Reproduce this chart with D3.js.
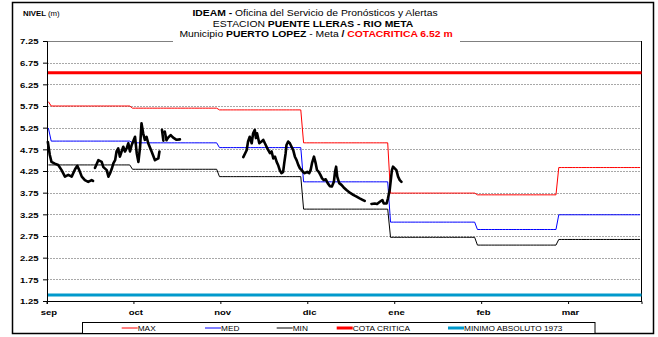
<!DOCTYPE html>
<html><head><meta charset="utf-8">
<script src="https://cdn.jsdelivr.net/npm/d3@7"></script>
<style>
body{margin:0;background:#fff;}
svg{display:block;font-family:"Liberation Sans",Arial,sans-serif;}
</style></head><body>
<svg id="chart" width="658" height="337"></svg>
<script>
// Río Meta, estación Puente Lleras (Puerto López): niveles de septiembre a marzo
const meses = ["sep", "oct", "nov", "dic", "ene", "feb", "mar"];
const inicioMes = ["2015-09-01", "2015-10-01", "2015-11-01", "2015-12-01", "2016-01-01", "2016-02-01", "2016-03-01"];
const nivelMax = [5.75, 5.70, 5.66, 4.90, 3.74, 3.70, 4.33];
const nivelMed = [4.94, 4.90, 4.79, 4.00, 3.07, 2.90, 3.24];
const nivelMin = [4.39, 4.29, 4.12, 3.37, 2.72, 2.54, 2.67];
const primerDia = [5.85, 5.24, 4.39];          // MAX, MED, MIN del 1 de septiembre
const cotaCritica = 6.52;
const minimoAbsoluto = 1.39;
const nivelTicks = [1.25, 1.75, 2.25, 2.75, 3.25, 3.75, 4.25, 4.75, 5.25, 5.75, 6.25, 6.75, 7.25];
const diaTicks = [0, 31, 62, 93, 124, 155, 186];

// Lecturas observadas: día desde el 1 de septiembre y nivel (null = sin dato)
const obsDia = [
  0.3, 1.0, 1.6, 2.8, 4.0, 5.2, 6.4, 7.6, 8.8, 10.0, 10.8, 11.5, 12.4, 13.5, 14.7, 15.9, 16.4, null,
  17.1, 18.3, 19.5, 20.1, 21.3, 21.9, 22.5, 23.1, 23.7, 24.3, 24.8, 25.4, 26.0, 26.6, 27.2, 27.8, 28.4,
  29.0, 29.6, 30.2, 31.4, 32.0, 32.6, 33.2, 33.7, 34.3, 34.9, 35.5, 36.1, 37.3, 38.5, 39.7, 40.1, null,
  41.0, 41.5, null,
  42.0, 42.6, 43.2, 44.1, 45.0, 46.2, 47.4, null,
  70.0, 71.2, 71.7, 72.3, 73.0, 73.5, 74.1, 74.5, 74.9, 75.7, 76.5, 77.1, 77.7, 78.3, 78.9, 79.5, 80.1,
  80.7, 81.3, 81.9, 82.4, 83.0, 83.6, 84.2, 84.6, 85.1, 85.4, 86.0, 86.6, 87.2, 87.8, 88.4, 89.0, 89.6,
  90.2, 90.8, 91.3, 91.9, 92.8, 93.5, 94.0, 94.5, 95.2, 95.8, 96.3, 96.9, 97.5, 98.1, 98.7, 99.4, 100.1,
  100.9, 101.6, 102.3, 102.7, 103.1, 103.5, 104.2, 105.0, 105.8, 106.8, 108.0, 109.2, 110.4, 111.5,
  112.7, 113.3, null,
  115.7, 116.9, 117.7, 118.7, 119.6, 120.1, 121.1, 121.6, 122.2, 122.6, 123.0, 123.4, 124.0, 124.6,
  125.2, 125.8, 126.4
];
const obsNivel = [
  4.92, 4.62, 4.46, 4.42, 4.39, 4.27, 4.12, 4.16, 4.12, 4.29, 4.37, 4.27, 4.12, 4.04, 4.00, 4.04, 4.02, null,
  4.32, 4.50, 4.46, 4.34, 4.27, 4.12, 4.20, 4.30, 4.43, 4.50, 4.70, 4.77, 4.58, 4.70, 4.81, 4.70, 4.77,
  4.89, 4.70, 4.85, 5.04, 4.66, 4.46, 4.81, 5.35, 5.12, 4.97, 5.04, 4.89, 4.70, 4.50, 4.54, 4.70, null,
  5.20, 4.95, null,
  5.16, 4.96, 5.02, 5.08, 5.02, 4.97, 4.98, null,
  4.57, 4.73, 4.93, 5.04, 4.89, 5.12, 5.20, 5.01, 5.12, 4.89, 4.93, 4.97, 4.89, 4.81, 4.73, 4.66, 4.70,
  4.54, 4.58, 4.46, 4.39, 4.27, 4.20, 4.23, 4.43, 4.66, 4.85, 4.93, 4.89, 4.81, 4.73, 4.58, 4.50, 4.39,
  4.31, 4.27, 4.23, 4.20, 4.23, 4.20, 4.27, 4.43, 4.58, 4.43, 4.27, 4.23, 4.16, 4.08, 4.04, 4.06, 3.97,
  3.90, 3.89, 4.00, 4.23, 4.35, 4.12, 3.97, 3.93, 3.87, 3.81, 3.75, 3.70, 3.66, 3.62,
  3.58, 3.56, null,
  3.49, 3.50, 3.49, 3.54, 3.58, 3.50, 3.50, 3.62, 3.81, 4.04, 4.27, 4.35, 4.31, 4.27,
  4.12, 4.04, 4.00
];

const SX = 1.22;   // ensanche horizontal del texto
const svg = d3.select("#chart");
const M = {left: 47, right: 641.5, top: 41, bottom: 301};

const parse = d3.timeParse("%Y-%m-%d");
const t0 = parse(inicioMes[0]);
const diaInicio = inicioMes.map(s => d3.timeDay.count(t0, parse(s)));
const totalDias = 212;

const x = d3.scaleLinear().domain([0, totalDias]).range([M.left, M.right]);
const y = d3.scaleLinear().domain([1.25, 7.25]).range([M.bottom, M.top]);

// Serie diaria escalonada a partir de los valores mensuales
function serieMensual(valores, inicial) {
  const pts = [];
  for (let d = 0; d < totalDias; d++) {
    let m = 0;
    while (m + 1 < diaInicio.length && diaInicio[m + 1] <= d) m++;
    pts.push([d + 0.5, d === 0 ? inicial : valores[m]]);
  }
  return pts;
}

// Marco exterior
svg.append("rect").attr("x", 12.5).attr("y", 2.5).attr("width", 641).attr("height", 331)
  .attr("fill", "#fff").attr("stroke", "#000").attr("stroke-width", 1.5);

// Cuadrícula
svg.append("g").selectAll("line").data(nivelTicks.slice(1, -1)).join("line")
  .attr("x1", M.left).attr("x2", M.right)
  .attr("y1", d => Math.round(y(d)) + 0.5).attr("y2", d => Math.round(y(d)) + 0.5)
  .attr("stroke", "#a8a8a8").attr("stroke-dasharray", "2,1");

// Borde superior y derecho del área de trazado
svg.append("line").attr("x1", M.left).attr("x2", M.right).attr("y1", M.top + 0.5).attr("y2", M.top + 0.5)
  .attr("stroke", "#808080");
svg.append("line").attr("x1", M.right).attr("x2", M.right).attr("y1", M.top).attr("y2", M.bottom)
  .attr("stroke", "#000");

const linea = d3.line().defined(d => d[1] != null).x(d => x(d[0])).y(d => y(d[1]));

// Mínimo absoluto y cota crítica
svg.append("line").attr("x1", M.left).attr("x2", M.right)
  .attr("y1", y(minimoAbsoluto)).attr("y2", y(minimoAbsoluto))
  .attr("stroke", "#0099cc").attr("stroke-width", 3);
svg.append("line").attr("x1", M.left).attr("x2", M.right)
  .attr("y1", y(cotaCritica)).attr("y2", y(cotaCritica))
  .attr("stroke", "#ff0000").attr("stroke-width", 3);

// MAX, MED, MIN
const series = [
  {v: nivelMax, ini: primerDia[0], c: "#ff0000"},
  {v: nivelMed, ini: primerDia[1], c: "#0000ff"},
  {v: nivelMin, ini: primerDia[2], c: "#000000"}
];
series.forEach(s => {
  svg.append("path").datum(serieMensual(s.v, s.ini)).attr("d", linea)
    .attr("fill", "none").attr("stroke", s.c).attr("stroke-width", 1);
});

// Niveles observados
const obs = obsDia.map((d, i) => [d, d == null ? null : obsNivel[i]]);
svg.append("path").datum(obs).attr("d", linea)
  .attr("fill", "none").attr("stroke", "#000").attr("stroke-width", 2.6)
  .attr("stroke-linejoin", "round").attr("stroke-linecap", "round");

// Ejes
const ay = svg.append("g").attr("transform", `translate(${M.left},0)`)
  .call(d3.axisLeft(y).tickValues(nivelTicks).tickFormat(d3.format(".2f")).tickSizeOuter(0).tickSize(4));
ay.selectAll("text").attr("x", -8.5 / SX).attr("dy", "0.36em")
  .attr("transform", `scale(${SX},1)`).style("font-size", "7.8px").style("font-weight", "bold")
  .style("font-family", "'Liberation Sans',Arial,sans-serif").attr("fill", "#000");
ay.select(".domain").attr("stroke", "#000");

const ax = svg.append("g").attr("transform", `translate(0,${M.bottom})`)
  .call(d3.axisBottom(x).tickValues(diaTicks).tickFormat((d, i) => meses[i]).tickSizeOuter(0).tickSize(3));
ax.selectAll("text").attr("x", 1.5).attr("y", 14.5).attr("dy", 0)
  .attr("transform", `scale(${SX},1)`).style("font-size", "7.8px").style("font-weight", "bold")
  .style("font-family", "'Liberation Sans',Arial,sans-serif").attr("fill", "#000");
ax.selectAll(".tick").attr("transform", d => `translate(${x(d)},0)`);
ax.select(".domain").attr("stroke", "#000");

// Título
svg.append("rect").attr("x", 173).attr("y", 4).attr("width", 287).attr("height", 38.5).attr("fill", "#fff");
function texto(xp, yp, size, anchor) {
  return svg.append("text").attr("transform", `translate(${xp},${yp}) scale(${SX},1)`)
    .attr("text-anchor", anchor).style("font-size", size + "px").attr("fill", "#000");
}
const t1 = texto(315, 16, 8.5, "middle");
t1.append("tspan").attr("font-weight", "bold").text("IDEAM - ");
t1.append("tspan").text("Oficina del Servicio de Pronósticos y Alertas");
const t2 = texto(313, 26.5, 8.5, "middle");
t2.append("tspan").text("ESTACION ");
t2.append("tspan").attr("font-weight", "bold").text("PUENTE LLERAS - RIO META");
const t3 = texto(316, 37, 8.5, "middle");
t3.append("tspan").text("Municipio ");
t3.append("tspan").attr("font-weight", "bold").text("PUERTO LOPEZ");
t3.append("tspan").text(" - Meta ");
t3.append("tspan").attr("font-weight", "bold").text(" /  ");
t3.append("tspan").attr("font-weight", "bold").attr("fill", "#ff0000").text("COTACRITICA " + cotaCritica.toFixed(2) + " m");

const tn = texto(23, 15.5, 6.4, "start");
tn.append("tspan").attr("font-weight", "bold").text("NIVEL ");
tn.append("tspan").text("(m)");

// Leyenda
svg.append("rect").attr("x", 82.5).attr("y", 322.5).attr("width", 512.5).attr("height", 11)
  .attr("fill", "#fff").attr("stroke", "#000");
const leyenda = [
  {n: "MAX", c: "#ff0000", w: 1, x: 121.7},
  {n: "MED", c: "#0000ff", w: 1, x: 205},
  {n: "MIN", c: "#000000", w: 1, x: 276.7},
  {n: "COTA CRITICA", c: "#ff0000", w: 3, x: 336.7},
  {n: "MINIMO ABSOLUTO 1973", c: "#0099cc", w: 3, x: 448}
];
leyenda.forEach(l => {
  svg.append("line").attr("x1", l.x).attr("x2", l.x + 16).attr("y1", 328).attr("y2", 328)
    .attr("stroke", l.c).attr("stroke-width", l.w);
  texto(l.x + 16, 330.8, 6.8, "start").text(l.n);
});
</script>
</body></html>
